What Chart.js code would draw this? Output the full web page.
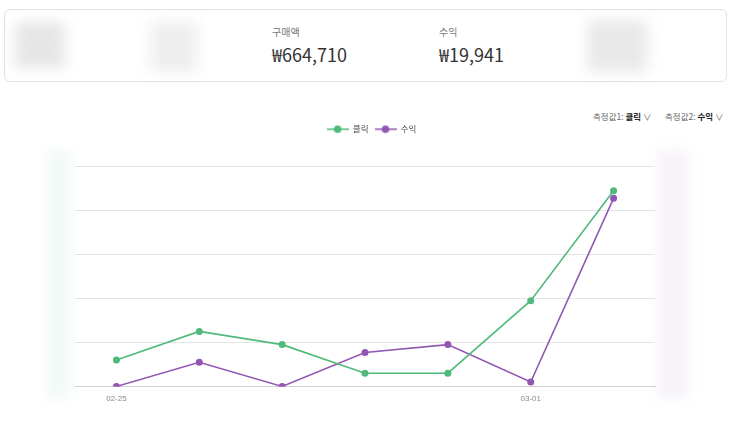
<!DOCTYPE html>
<html>
<head>
<meta charset="utf-8">
<script src="https://cdn.jsdelivr.net/npm/chart.js@4"></script>
<style>
  body { margin:0; width:743px; height:428px; background:#fff; font-family:"Noto Sans CJK KR","Noto Sans",sans-serif; position:relative; overflow:hidden; }
  .card { position:absolute; left:4px; top:9px; width:723px; height:73px; border:1px solid #e2e2e2; border-radius:6px; box-sizing:border-box; }
  .blob { position:absolute; background:#e6e6e6; filter:blur(7px); }
  .lbl { position:absolute; font-size:10px; color:#777; }
  .val { position:absolute; font-size:18px; color:#333; }
  .ctrl { position:absolute; top:110px; font-size:8.5px; color:#666; }
  .ctrl b { color:#222; }
  .side { position:absolute; filter:blur(6px); }
  #wrap { position:absolute; left:0; top:119px; width:743px; height:285px; }
</style>
</head>
<body>
<div class="card">
  <div class="blob" style="left:10px;top:12px;width:50px;height:46px"></div>
  <div class="blob" style="left:146px;top:12px;width:46px;height:50px;background:#eeeeee"></div>
  <div class="lbl" style="left:267px;top:14px">구매액</div>
  <div class="val" style="left:267px;top:31px">₩664,710</div>
  <div class="lbl" style="left:434px;top:14px">수익</div>
  <div class="val" style="left:434px;top:31px">₩19,941</div>
  <div class="blob" style="left:582px;top:10px;width:60px;height:52px;background:#e9e9e9"></div>
</div>
<div class="ctrl" style="left:593px">측정값1: <b>클릭</b> ∨</div>
<div class="ctrl" style="left:665px">측정값2: <b>수익</b> ∨</div>
<div class="side" style="left:46px;top:150px;width:24px;height:248px;background:rgba(76,187,122,0.07)"></div>
<div class="side" style="left:658px;top:150px;width:30px;height:248px;background:rgba(145,85,176,0.08)"></div>
<div id="wrap"><canvas id="myChart"></canvas></div>
<script>
const labels = ['02-25', '02-26', '02-27', '02-28', '02-29', '03-01', '03-02']
const clicks = [12, 25, 19, 6, 6, 39, 89]
const revenue = [0, 1650, 0, 2310, 2850, 300, 12831]
const shownTicks = ['02-25', '03-01']

const green = '#4fba7b'
const purple = '#9157b2'

function legendIcon(color){
  const c = document.createElement('canvas')
  c.width = 22; c.height = 10
  const g = c.getContext('2d')
  g.strokeStyle = color; g.lineWidth = 1.5
  g.beginPath(); g.moveTo(0, 5); g.lineTo(22, 5); g.stroke()
  g.fillStyle = color
  g.beginPath(); g.arc(11, 5, 3.8, 0, Math.PI * 2); g.fill()
  return c
}

// extra room under the legend
const legendGap = {
  id: 'legendGap',
  beforeInit(chart){
    const fit = chart.legend.fit
    chart.legend.fit = function(){ fit.bind(chart.legend)(); this.height += 23 }
  }
}

const data = {
  labels: labels,
  datasets: [
    { label: '클릭', data: clicks, borderColor: green, backgroundColor: green, yAxisID: 'y', borderWidth: 1.6, pointRadius: 2.7, tension: 0 },
    { label: '수익', data: revenue, borderColor: purple, backgroundColor: purple, yAxisID: 'y1', borderWidth: 1.6, pointRadius: 2.7, tension: 0 }
  ]
}

new Chart(document.getElementById('myChart'), {
  type: 'line',
  data,
  plugins: [legendGap],
  options: {
    responsive: true,
    maintainAspectRatio: false,
    animation: false,
    layout: { padding: { top: 0, bottom: 0 } },
    plugins: {
      tooltip: { enabled: false },
      legend: {
        labels: {
          usePointStyle: true,
          pointStyleWidth: 22,
          padding: 6,
          font: { size: 8.5, family: '"Noto Sans CJK KR", sans-serif' },
          color: '#444',
          generateLabels(chart){
            return chart.data.datasets.map((d, i) => ({
              text: d.label, pointStyle: legendIcon(d.borderColor), fillStyle: d.borderColor,
              strokeStyle: d.borderColor, lineWidth: 0, datasetIndex: i, fontColor: '#444'
            }))
          }
        }
      }
    },
    scales: {
      x: {
        offset: true,
        grid: { display: false },
        border: { color: '#d0d0d0' },
        ticks: {
          color: '#888', font: { size: 8 }, autoSkip: false, maxRotation: 0, padding: 0,
          callback(v){ return shownTicks.includes(labels[v]) ? labels[v] : '' }
        }
      },
      y: {
        position: 'left', min: 0, max: 100,
        ticks: { stepSize: 20, display: false },
        grid: { color: '#e4e4e4', drawTicks: false },
        border: { display: false },
        afterFit(s){ s.width = 75 }
      },
      y1: {
        position: 'right', min: 0, max: 15000,
        ticks: { stepSize: 3000, display: false },
        grid: { display: false, drawTicks: false },
        border: { display: false },
        afterFit(s){ s.width = 88 }
      }
    }
  }
})
</script>
</body>
</html>
